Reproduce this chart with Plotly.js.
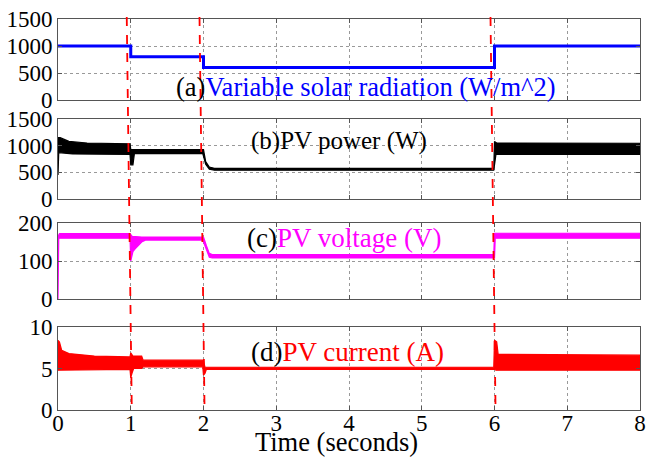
<!DOCTYPE html>
<html>
<head>
<meta charset="utf-8">
<script src="https://cdn.plot.ly/plotly-3.0.1.min.js"></script>
<style>html,body{margin:0;padding:0;background:#fff;}#chart{width:648px;height:457px;}</style>
</head>
<body>
<div id="chart"></div>
<script>
// ---- data ----
// (a) solar radiation, step values (W/m^2)
var radTime  = [0, 1, 2, 6, 8];
var radValue = [1000, 800, 600, 1000, 1000];

// (b) PV power envelope (W)
var powUpT = [0, 0.03, 0.15, 0.4, 0.99, 1.0, 1.99, 2.0, 2.03, 2.08, 2.15, 5.99, 6.0, 6.03, 8];
var powUpV = [1150, 1150, 1080, 1050, 1035, 930, 925, 925, 700, 600, 575, 575, 1080, 1050, 1045];
var powLoT = [0, 0.01, 0.2, 0.99, 1.0, 1.03, 1.05, 1.99, 2.0, 2.03, 2.08, 2.15, 5.99, 6.0, 6.02, 8];
var powLoV = [450, 870, 845, 835, 640, 640, 850, 850, 850, 650, 560, 540, 540, 540, 835, 835];

// (c) PV voltage envelope (V)
var volUpT = [0, 0.02, 0.99, 1.0, 1.02, 1.15, 1.99, 2.0, 2.04, 2.08, 2.12, 5.99, 6.0, 8];
var volUpV = [165, 172, 172, 170, 165, 163, 163, 163, 140, 120, 117, 117, 173, 173];
var volLoT = [0, 0.01, 0.99, 1.0, 1.03, 1.06, 1.15, 1.2, 1.99, 2.0, 2.04, 2.08, 2.12, 5.99, 6.0, 6.01, 8];
var volLoV = [0, 160, 160, 100, 125, 132, 150, 155, 155, 155, 130, 110, 108, 108, 108, 160, 160];

// (d) PV current envelope (A)
var curUpT = [0, 0.02, 0.05, 0.15, 0.5, 0.99, 1.0, 1.03, 1.15, 1.17, 1.99, 2.0, 2.02, 5.99, 6.0, 6.03, 6.05, 8];
var curUpV = [8.4, 8.2, 7.2, 6.8, 6.5, 6.4, 6.9, 6.5, 6.5, 6.0, 6.0, 5.9, 5.15, 5.15, 8.4, 8.2, 6.7, 6.6];
var curLoT = [0, 0.99, 1.0, 1.02, 1.04, 1.15, 1.17, 1.99, 2.0, 2.02, 2.04, 5.99, 6.0, 6.02, 8];
var curLoV = [4.8, 4.9, 3.9, 4.5, 5.0, 5.0, 5.2, 5.2, 4.2, 4.4, 4.9, 4.9, 4.9, 4.8, 4.8];

var switchTimes = [1, 2, 6];
var xTicks = [0, 1, 2, 3, 4, 5, 6, 7, 8];

// ---- helpers ----
function band(upT, upV, loT, loV, color, xa, ya) {
  return {
    x: upT.concat(loT.slice().reverse()),
    y: upV.concat(loV.slice().reverse()),
    type: 'scatter', mode: 'lines', fill: 'toself',
    fillcolor: color, line: {color: color, width: 1.2},
    xaxis: xa, yaxis: ya, hoverinfo: 'skip', showlegend: false
  };
}

var traces = [
  {x: radTime, y: radValue, type: 'scatter', mode: 'lines',
   line: {color: '#0000ff', width: 3, shape: 'hv'}, xaxis: 'x', yaxis: 'y', showlegend: false},
  band(powUpT, powUpV, powLoT, powLoV, '#000000', 'x2', 'y2'),
  band(volUpT, volUpV, volLoT, volLoV, '#ff00ff', 'x3', 'y3'),
  band(curUpT, curUpV, curLoT, curLoV, '#ff0000', 'x4', 'y4')
];

var serif = '"Liberation Serif", "Times New Roman", Times, serif';
var W = 648, H = 457;
var xDom = [58 / W, 640 / W];
function yDom(top, bot) { return [1 - bot / H, 1 - top / H]; }

function xAxis(showLabels, anchor) {
  return {
    domain: xDom, range: [0, 8], tickvals: xTicks, showticklabels: showLabels,
    showline: true, mirror: 'ticks', linecolor: '#555', linewidth: 1,
    ticks: 'inside', ticklen: 4, tickcolor: '#555', ticklabelstandoff: -8,
    showgrid: true, gridcolor: '#999', griddash: 'dot', gridwidth: 1, zeroline: false,
    tickfont: {family: serif, size: 23, color: '#000'}, anchor: anchor, fixedrange: true
  };
}
function yAxis(dom, range, dtick, anchor) {
  return {
    domain: dom, range: range, dtick: dtick, tick0: 0,
    showline: true, mirror: 'ticks', linecolor: '#555', linewidth: 1,
    ticks: 'inside', ticklen: 4, tickcolor: '#555',
    showgrid: true, gridcolor: '#999', griddash: 'dot', gridwidth: 1, zeroline: false,
    tickfont: {family: serif, size: 23, color: '#000'}, anchor: anchor, fixedrange: true
  };
}

var shapes = switchTimes.map(function (t) {
  return {type: 'line', xref: 'x4', yref: 'paper',
          x0: t - 0.055, y0: 1 - 17 / H, x1: t + 0.015, y1: 1 - 413 / H,
          line: {color: '#ff0000', width: 1.8, dash: 'dash'}};
});

function annFont(size) { return {family: serif, size: size, color: '#000'}; }
var annotations = [
  {text: '(a)<span style="color:#0000ff">Variable solar radiation (W/m^2)</span>',
   xref: 'paper', yref: 'paper', x: 174 / W, y: 1 - 87 / H, xanchor: 'left', yanchor: 'middle', showarrow: false, font: annFont(26.5)},
  {text: '(b)PV power (W)',
   xref: 'paper', yref: 'paper', x: 249 / W, y: 1 - 141 / H, xanchor: 'left', yanchor: 'middle', showarrow: false, font: annFont(25)},
  {text: '(c)<span style="color:#ff00ff">PV voltage (V)</span>',
   xref: 'paper', yref: 'paper', x: 245 / W, y: 1 - 238 / H, xanchor: 'left', yanchor: 'middle', showarrow: false, font: annFont(27)},
  {text: '(d)<span style="color:#ff0000">PV current (A)</span>',
   xref: 'paper', yref: 'paper', x: 249 / W, y: 1 - 352 / H, xanchor: 'left', yanchor: 'middle', showarrow: false, font: annFont(27)},
  {text: 'Time (seconds)',
   xref: 'paper', yref: 'paper', x: 336 / W, y: 1 - 442 / H, xanchor: 'center', yanchor: 'middle', showarrow: false,
   font: annFont(26.5)}
];

var layout = {
  width: W, height: H,
  margin: {l: 0, r: 0, t: 0, b: 0},
  paper_bgcolor: '#fff', plot_bgcolor: '#fff',
  showlegend: false,
  font: {family: serif, color: '#000'},
  xaxis: xAxis(false, 'y'),
  xaxis2: xAxis(false, 'y2'),
  xaxis3: xAxis(false, 'y3'),
  xaxis4: xAxis(true, 'y4'),
  yaxis: yAxis(yDom(19, 100), [0, 1500], 500, 'x'),
  yaxis2: yAxis(yDom(119, 199), [0, 1500], 500, 'x2'),
  yaxis3: yAxis(yDom(223, 299), [0, 200], 100, 'x3'),
  yaxis4: yAxis(yDom(327, 410), [0, 10], 5, 'x4'),
  shapes: shapes,
  annotations: annotations
};

Plotly.newPlot('chart', traces, layout, {displayModeBar: false, staticPlot: true});
</script>
</body>
</html>
